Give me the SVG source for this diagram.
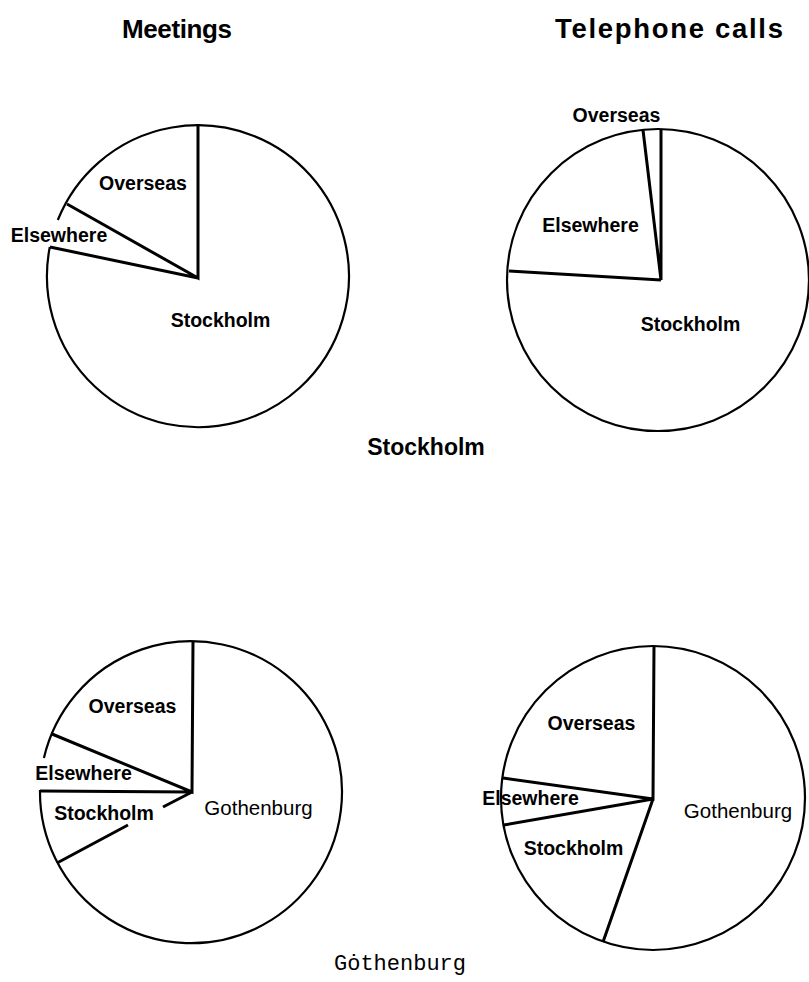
<svg xmlns="http://www.w3.org/2000/svg" width="809" height="982" viewBox="0 0 809 982">
  <style>
    .rim { fill: none; stroke: #000; stroke-width: 2.2; }
    .spoke { fill: none; stroke: #000; stroke-width: 3; stroke-linecap: butt; }
    .title { font-family: "Liberation Sans", Arial, sans-serif; font-weight: bold; font-size: 26px; text-anchor: middle; fill: #000; }
    .lbl { font-family: "Liberation Sans", Arial, sans-serif; font-weight: bold; font-size: 19.5px; text-anchor: middle; fill: #000; }
    .city { font-family: "Liberation Sans", Arial, sans-serif; font-size: 20.5px; text-anchor: middle; fill: #000; }
    .cap { font-family: "Liberation Sans", Arial, sans-serif; font-weight: bold; font-size: 23px; text-anchor: middle; fill: #000; }
    .mono { font-family: "Liberation Mono", "DejaVu Sans Mono", monospace; font-size: 22px; text-anchor: middle; fill: #000; }
  </style>
  <rect width="809" height="982" fill="#fff"/>

  <!-- column headings -->
  <text class="title" x="177" y="38" textLength="110">Meetings</text>
  <text class="title" x="669" y="38" style="font-size:27.5px" textLength="228">Telephone calls</text>

  <!-- Stockholm, meetings -->
  <g id="pie-stockholm-meetings">
    <path class="rim" d="M57.8,220 A151,151 0 1 1 49.8,247"/>
    <path class="spoke" d="M198,124 L198,278 L67,204 M198,278 L50,247"/>
    <text class="lbl" x="143" y="190">Overseas</text>
    <text class="lbl" x="59" y="242">Elsewhere</text>
    <text class="lbl" x="220.5" y="327">Stockholm</text>
  </g>

  <!-- Stockholm, telephone calls -->
  <g id="pie-stockholm-calls">
    <circle class="rim" cx="658" cy="280" r="151"/>
    <path class="spoke" d="M661,129 L661,280 L643,130 M661,280 L509,271"/>
    <text class="lbl" x="616.5" y="122">Overseas</text>
    <text class="lbl" x="590.5" y="232">Elsewhere</text>
    <text class="lbl" x="690.5" y="331">Stockholm</text>
  </g>

  <text class="cap" x="426" y="455">Stockholm</text>

  <!-- Gothenburg, meetings -->
  <g id="pie-gothenburg-meetings">
    <path class="rim" d="M43.9,758 A151,151 0 1 1 40,790"/>
    <path class="spoke" d="M193,641 L192,792 L52,734 M192,792 L40,791 M192,792 L163,807 M128,825 L57,863"/>
    <text class="lbl" x="132.5" y="713">Overseas</text>
    <text class="lbl" x="83.5" y="780">Elsewhere</text>
    <text class="lbl" x="104" y="820">Stockholm</text>
    <text class="city" x="258.5" y="815">Gothenburg</text>
  </g>

  <!-- Gothenburg, telephone calls -->
  <g id="pie-gothenburg-calls">
    <circle class="rim" cx="653" cy="798" r="152"/>
    <path class="spoke" d="M654,646 L653,799 L503,778 M653,799 L504,825 M653,799 L603,942"/>
    <text class="lbl" x="591.5" y="730">Overseas</text>
    <text class="lbl" x="530.5" y="805">Elsewhere</text>
    <text class="lbl" x="573.5" y="855">Stockholm</text>
    <text class="city" x="738" y="818">Gothenburg</text>
  </g>

  <text class="mono" x="400" y="970">Gȯthenburg</text>
</svg>
